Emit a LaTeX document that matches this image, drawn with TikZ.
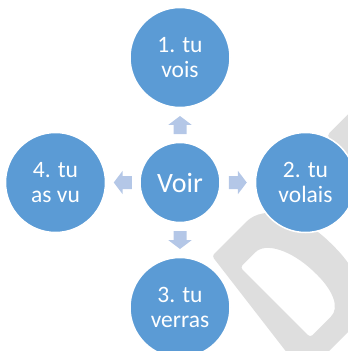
\documentclass[tikz,border=0pt]{standalone}
\usepackage{fontspec}
\setmainfont{Carlito}
\usetikzlibrary{calc}
\definecolor{circblue}{HTML}{5B9BD5}
\definecolor{arrblue}{HTML}{B4C7E7}
\definecolor{wmgray}{HTML}{DEDEDE}
\begin{document}
\begin{tikzpicture}[x=1pt,y=-1pt,
  bubble/.style={circle, fill=circblue, draw=white, line width=1.5pt, text=white,
    inner sep=0pt, minimum size=100pt, align=center,
    font=\fontsize{23.5}{24.5}\selectfont},
  hub/.style={bubble, minimum size=80pt, font=\fontsize{28}{30}\selectfont},
  blockarrow/.style={fill=arrblue},
  wm/.style={fill=wmgray}]
\useasboundingbox (0,0) rectangle (348,351);
\clip (0,0) rectangle (348,351);
% faint watermark letters
\begin{scope}[shift={(212,256)}, rotate=45]
  \fill[wm, even odd rule, rounded corners=3]
    (-19,150) -- (0,0) -- (45,0) .. controls (75,0) and (93,35) .. (93,78)
      .. controls (93,120) and (75,150) .. (40,150) -- cycle
    (12,28) -- (30,28) .. controls (48,28) and (60,52) .. (61,85)
      .. controls (61,110) and (54,127) .. (38,127) -- (12,127) -- cycle;
  \fill[wm, rounded corners=4] (166,-4) -- (240,-4) -- (240,90) -- (166,90) -- cycle;
\end{scope}
% circles
\node[hub]    (c)  at (180,182.5) {Voir};
\node[bubble] (n1) at (180,57.5)  {1. tu\\vois};
\node[bubble] (n2) at (305.5,182.5) {2. tu\\volais};
\node[bubble] (n3) at (180,307.5) {3. tu\\verras};
\node[bubble] (n4) at (55.5,182.5) {4. tu\\as vu};
% arrow anchor points
\coordinate (a1) at ($(c.north)!0.5!(n1.south)$);
\coordinate (a2) at ($(c.east)!0.5!(n2.west)$);
\coordinate (a3) at ($(c.south)!0.5!(n3.north)$);
\coordinate (a4) at ($(c.west)!0.5!(n4.east)$);
\foreach \p/\r in {a1/90, a2/0, a3/-90, a4/180}{
  \fill[blockarrow, shift={(\p)}, rotate=\r]
    (-9,-6.5) -- (0.2,-6.5) -- (0.2,-11.6) -- (9,0) -- (0.2,11.6) -- (0.2,6.5) -- (-9,6.5) -- cycle;
}
\end{tikzpicture}
\end{document}
